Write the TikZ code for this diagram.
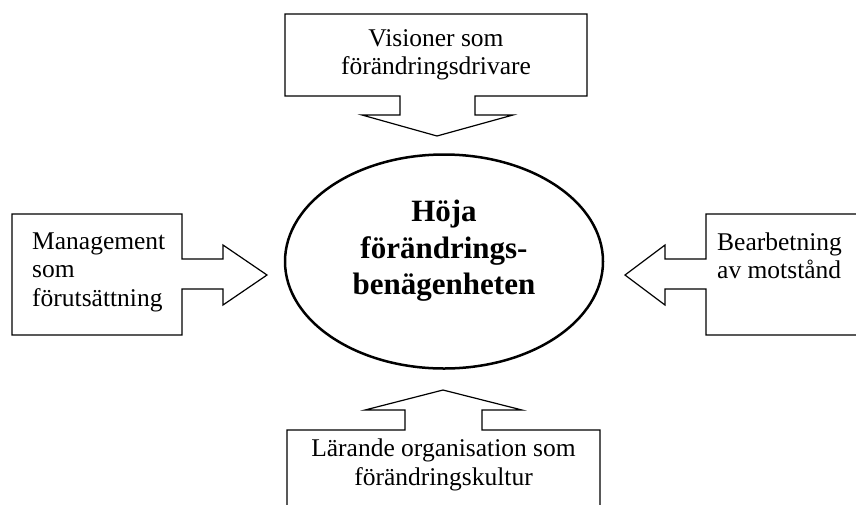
\documentclass[tikz,border=0pt]{standalone}
\usepackage{fontspec}
\setmainfont{Liberation Serif}
\begin{document}
\begin{tikzpicture}[x=1pt,y=-1pt,
  callout/.style={draw=black,line width=1.2pt,line join=miter,fill=white},
  lbl/.style={inner sep=0pt,font=\fontsize{25.5}{28.5}\selectfont},
  hubtxt/.style={inner sep=0pt,align=center,font=\fontsize{31}{36.5}\selectfont\bfseries}]
\useasboundingbox (0,0) rectangle (856,504);
\clip (0,0) rectangle (856,504);
\fill[white] (0,0) rectangle (856,504);
% top callout (down arrow)
\draw[callout] (285,14) -- (587,14) -- (587,96) -- (475,96) -- (475,115) -- (513,115)
  -- (437,136) -- (362,115) -- (400,115) -- (400,96) -- (285,96) -- cycle;
% left callout (right arrow)
\draw[callout] (12,214) -- (182,214) -- (182,259) -- (223,259) -- (223,245)
  -- (267,275) -- (223,305) -- (223,289) -- (182,289) -- (182,335) -- (12,335) -- cycle;
% right callout (left arrow)
\draw[callout] (870,214) -- (706,214) -- (706,259) -- (665,259) -- (665,245)
  -- (625,275) -- (665,305) -- (665,289) -- (706,289) -- (706,335) -- (870,335);
% bottom callout (up arrow)
\draw[callout] (287,520) -- (287,430) -- (405,430) -- (405,410) -- (365,410)
  -- (443,390) -- (522,410) -- (482,410) -- (482,430) -- (600,430) -- (600,520);
% central ellipse
\draw[line width=2.5pt] (444,261.5) ellipse [x radius=159, y radius=107];
\node[hubtxt] (hub) at (444,251) {Höja\\förändrings-\\benägenheten};
% labels
\node[lbl,align=center] (top) at (436,55) {Visioner som\\förändringsdrivare};
\node[lbl,align=left,anchor=west] (left) at (32,272) {Management\\som\\förutsättning};
\node[lbl,align=left,anchor=west] (right) at (717,256) {Bearbetning\\av motstånd};
\node[lbl,align=center] (bottom) at (443.5,465) {Lärande organisation som\\förändringskultur};
\end{tikzpicture}
\end{document}
